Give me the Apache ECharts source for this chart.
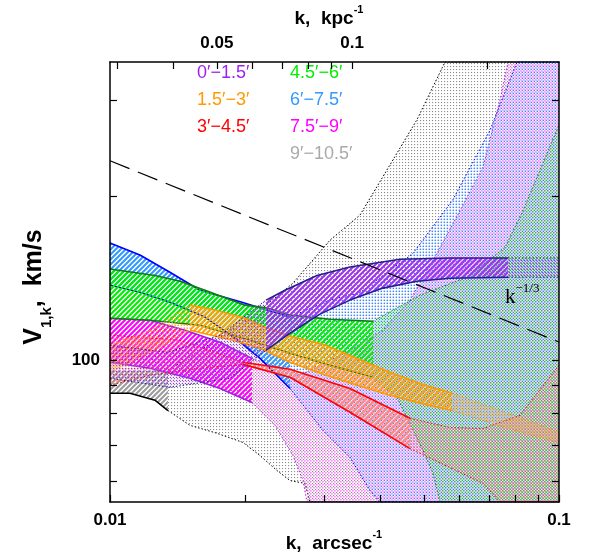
<!DOCTYPE html>
<html>
<head>
<meta charset="utf-8">
<script src="https://cdn.jsdelivr.net/npm/echarts@6/dist/echarts.min.js"></script>
<style>
  html, body { margin: 0; padding: 0; background: #fff; }
  #chart { width: 598px; height: 558px; }
</style>
</head>
<body>
<div id="chart"></div>
<script>
// axes
const xTickValues = [0.01, 0.02, 0.03, 0.04, 0.05, 0.06, 0.07, 0.08, 0.09, 0.1];
const xLabelValues = [0.01, 0.1];
const kpcTickValues = [0.03, 0.04, 0.05, 0.06, 0.07, 0.08, 0.09, 0.1, 0.2];
const kpcLabelValues = [0.05, 0.1];
const yTickValues = [60, 70, 80, 90, 100, 200, 300];
const yLabelValues = [100];
const kpcPerArcsec = 2.89;

const legendNames = ['0′−1.5′', '1.5′−3′', '3′−4.5′', '4.5′−6′', '6′−7.5′', '7.5′−9′', '9′−10.5′'];

// k^-1/3 reference
const slopeLine = [[0.01, 232], [0.1, 108]];

// 9'-10.5'
const grayHatchUp = [[0.01, 95.9], [0.01346, 95.9]];
const grayHatchLo = [[0.01, 87], [0.01108, 87], [0.01259, 84.5], [0.01346, 80.9]];
const grayDotUp = [[0.01346, 95.9], [0.01587, 104.3], [0.0205, 119.4], [0.02556, 138.5], [0.0309, 166], [0.03603, 184.5], [0.04827, 276], [0.05573, 352], [0.1, 352]];
const grayDotLo = [[0.01346, 80.9], [0.01507, 76], [0.01731, 73.5], [0.01978, 70.7], [0.02158, 66.9], [0.02355, 62.8], [0.02517, 60.2], [0.02718, 59.5], [0.02789, 55], [0.1, 55]];

// 7.5'-9'
const magHatchUp = [[0.01, 119.4], [0.01228, 118.4], [0.01469, 113.5], [0.01758, 107.9], [0.02071, 100.8]];
const magHatchLo = [[0.01, 99.2], [0.01228, 96.7], [0.01507, 92.7], [0.01758, 88.8], [0.02071, 83.7]];
const magDotUp = [[0.02071, 100.8], [0.0265, 93.9], [0.03423, 104.3], [0.04055, 113.5], [0.04657, 128.9], [0.05349, 157], [0.06018, 188], [0.06773, 226], [0.0739, 300], [0.07699, 352], [0.1, 352]];
const magDotLo = [[0.02071, 83.7], [0.02331, 76], [0.02556, 66.9], [0.0269, 60.2], [0.02746, 55], [0.1, 55]];

// 6'-7.5'
const blueHatchUp = [[0.01, 164], [0.01166, 155.9], [0.0136, 145], [0.01587, 134.4], [0.0195, 128], [0.02517, 120]];
const blueHatchLo = [[0.01, 137.3], [0.01166, 133.3], [0.0136, 127.8], [0.01628, 120], [0.01928, 108.8], [0.02158, 100.8], [0.02517, 88.8]];
const blueDotUp = [[0.02517, 120], [0.0309, 129], [0.03603, 133], [0.04729, 157], [0.05806, 197], [0.0702, 264], [0.08063, 352], [0.1, 352]];
const blueDotLo = [[0.02517, 88.8], [0.02981, 74.4], [0.03423, 66.4], [0.03794, 57.7], [0.03993, 55], [0.1, 55]];

// 4.5'-6'
const greenHatchUp = [[0.01, 147], [0.01259, 143], [0.01432, 139.6], [0.01628, 134.4], [0.01998, 126.2], [0.02248, 124.6], [0.02517, 121], [0.0309, 118.9], [0.03852, 117.9]];
const greenHatchLo = [[0.01, 119.4], [0.01228, 118.4], [0.01587, 115.9], [0.0205, 108.8], [0.02517, 103], [0.0309, 97.9], [0.03852, 93.1]];
const greenDotUp = [[0.03852, 117.9], [0.04902, 131.6], [0.06239, 142], [0.07581, 161], [0.08315, 188], [0.09072, 223], [0.1, 270]];
const greenDotLo = [[0.03852, 93.1], [0.04357, 85.5], [0.04657, 76.6], [0.04978, 68.4], [0.0524, 62.1], [0.05432, 55], [0.1, 55]];

// 3'-4.5'
const redHatchUp = [[0.01978, 99.2], [0.02517, 96.3], [0.03423, 88.8], [0.04657, 78.3]];
const redHatchLo = [[0.01978, 98.3], [0.02517, 93.1], [0.03423, 80.3], [0.04657, 68.9]];
const redDotLeftUp = [[0.01, 111.2], [0.01432, 108.8], [0.01978, 99.2]];
const redDotLeftLo = [[0.01, 90], [0.01228, 93.9], [0.01587, 96.7], [0.01978, 98.3]];
const redDotRightUp = [[0.04657, 78.3], [0.05718, 75.3], [0.06773, 75], [0.08188, 79.3], [0.1, 97.9]];
const redDotRightLo = [[0.04657, 68.9], [0.05718, 63.6], [0.06773, 59.5], [0.0739, 55], [0.1, 55]];

// 1.5'-3'
const orangeHatchUp = [[0.01507, 126.2], [0.01713, 123.6], [0.01998, 119.4], [0.02214, 115], [0.02517, 110.7], [0.02981, 107], [0.03548, 100.8], [0.04203, 95.1], [0.04902, 90.7], [0.05777, 87]];
const orangeHatchLo = [[0.01507, 113.5], [0.01879, 108.8], [0.02158, 105.2], [0.02517, 99.2], [0.02981, 94.3], [0.03548, 90], [0.04203, 86.3], [0.04902, 83.4], [0.05777, 80.9]];
const orangeDotLeftUp = [[0.01, 106.5], [0.01228, 113.5], [0.01507, 126.2]];
const orangeDotLeftLo = [[0.01, 95.1], [0.01228, 103.4], [0.01507, 113.5]];
const orangeDotRightUp = [[0.05777, 87], [0.07581, 80.3], [0.1, 73.8]];
const orangeDotRightLo = [[0.05777, 80.9], [0.07581, 75.3], [0.1, 70.7]];

// 0'-1.5'
const purpleHatchUp = [[0.02226, 128.9], [0.02453, 134.4], [0.02891, 143], [0.03423, 148.2], [0.04424, 153.2], [0.05718, 154], [0.07699, 154]];
const purpleHatchLo = [[0.02226, 104.3], [0.02517, 112.1], [0.02935, 121.5], [0.03423, 128.9], [0.04055, 135.6], [0.04827, 139.6], [0.05718, 141.4], [0.07699, 142]];
const purpleDotLeftUp = [[0.01, 106.5], [0.01346, 103.4], [0.01758, 111.2], [0.02226, 128.9]];
const purpleDotLeftLo = [[0.01, 92.7], [0.0136, 89.2], [0.0185, 92.7], [0.02226, 104.3]];
const purpleDotRightUp = [[0.07699, 154], [0.1, 154]];
const purpleDotRightLo = [[0.07699, 142], [0.1, 142]];

const FONT = 'Liberation Sans';

// diagonal "////" hatch, tile holds two stripes so the seams line up
function hatchPattern(color, lw) {
  const c = document.createElement('canvas');
  c.width = 10; c.height = 10;
  const g = c.getContext('2d');
  g.strokeStyle = color;
  g.lineWidth = lw;
  g.beginPath();
  for (let k = -3; k <= 5; k++) {
    const off = k * 5;
    g.moveTo(off - 10, 20);
    g.lineTo(off + 20, -10);
  }
  g.stroke();
  return { image: c, repeat: 'repeat' };
}

// one dot per tile, wrapped so an offset dot is never cut
function dotPattern(color, step, size, off) {
  const c = document.createElement('canvas');
  c.width = step; c.height = step;
  const g = c.getContext('2d');
  g.fillStyle = color;
  [0, -step].forEach(dx => [0, -step].forEach(dy => g.fillRect(off + dx, off + dy, size, size)));
  return { image: c, repeat: 'repeat' };
}

// draw order: outer annuli first, inner ones on top
const annuli = [
  { hatch: '#9c9c9c', dot: '#8c8c8c', dotSize: 1.1, edge: '#000000', up: grayHatchUp, lo: grayHatchLo, drawUp: false,
    ext: [[grayDotUp, grayDotLo]] },
  { hatch: '#ff00ff', dot: '#ff22ff', dotSize: 1.2, edge: '#a020e0', up: magHatchUp, lo: magHatchLo, drawUp: true,
    ext: [[magDotUp, magDotLo]] },
  { hatch: '#3399ff', dot: '#3d85ff', dotSize: 1.4, edge: '#0000ff', up: blueHatchUp, lo: blueHatchLo, drawUp: true,
    ext: [[blueDotUp, blueDotLo]] },
  { hatch: '#00ee00', dot: '#19d419', dotSize: 1.4, edge: '#157a15', up: greenHatchUp, lo: greenHatchLo, drawUp: true,
    ext: [[greenDotUp, greenDotLo]] },
  { hatch: '#ff8878', dot: '#ff7060', dotSize: 1.4, edge: '#ff0000', up: redHatchUp, lo: redHatchLo, drawUp: true,
    ext: [[redDotLeftUp, redDotLeftLo], [redDotRightUp, redDotRightLo]] },
  { hatch: '#ffa010', dot: '#ffa010', dotSize: 1.4, edge: '#ff9900', up: orangeHatchUp, lo: orangeHatchLo, drawUp: true,
    ext: [[orangeDotLeftUp, orangeDotLeftLo], [orangeDotRightUp, orangeDotRightLo]] },
  { hatch: '#9d33ee', dot: '#9d33ee', dotSize: 1.3, edge: '#22208c', up: purpleHatchUp, lo: purpleHatchLo, drawUp: true,
    ext: [[purpleDotLeftUp, purpleDotLeftLo], [purpleDotRightUp, purpleDotRightLo]] }
];

const legendColors = ['#a020f0', '#ff9900', '#ff0000', '#00ee00', '#3399ff', '#ff00ff', '#aaaaaa'];

function area(up, lo, fill, z) {
  return {
    type: 'custom',
    coordinateSystem: 'cartesian2d',
    xAxisIndex: 0,
    yAxisIndex: 0,
    z: z,
    silent: true,
    clip: true,
    data: [up[0]],
    renderItem: function (params, api) {
      const pts = up.concat(lo.slice().reverse()).map(p => api.coord(p));
      return { type: 'polygon', shape: { points: pts }, style: { fill: fill, stroke: null } };
    }
  };
}

function edge(data, color, width, type, z) {
  return {
    type: 'line',
    xAxisIndex: 0,
    yAxisIndex: 0,
    data: data,
    symbol: 'none',
    showSymbol: false,
    silent: true,
    z: z,
    lineStyle: { color: color, width: width, type: type }
  };
}

// each annulus: dotted extension, then hatch, then its edges; the next one covers it
const series = [];
annuli.forEach((a, i) => {
  const z = 10 + i * 4;
  a.ext.forEach(pair => series.push(area(pair[0], pair[1], dotPattern(a.dot, 3, a.dotSize, (i * 1.3) % 3), z)));
  a.ext.forEach(pair => {
    series.push(edge(pair[0], a.edge, 1, [1.5, 2], z + 1));
    series.push(edge(pair[1], a.edge, 1, [1.5, 2], z + 1));
  });
  series.push(area(a.up, a.lo, hatchPattern(a.hatch, 2.1), z + 2));
  if (a.drawUp) series.push(edge(a.up, a.edge, 1.6, 'solid', z + 3));
  series.push(edge(a.lo, a.edge, 1.6, 'solid', z + 3));
});
series.push(edge(slopeLine, '#000', 1.2, [21, 9], 100));

function fmt(v) { return String(+Number(v).toPrecision(4)); }

function logAxis(min, max, position, ticks, labels) {
  return {
    type: 'log',
    logBase: 10,
    min: min,
    max: max,
    position: position,
    z: 200,
    axisLine: { show: true, onZero: false, lineStyle: { color: '#000', width: 1.5 } },
    axisTick: { show: true, inside: true, length: 7, customValues: ticks, lineStyle: { color: '#000', width: 1.2 } },
    axisLabel: {
      show: labels.length > 0,
      customValues: labels,
      formatter: fmt,
      color: '#000',
      fontFamily: FONT,
      fontWeight: 'bold',
      fontSize: 17,
      margin: 10,
      showMinLabel: true,
      showMaxLabel: true
    },
    minorTick: { show: false },
    splitLine: { show: false },
    minorSplitLine: { show: false }
  };
}

const graphics = [];
const legendRowY = [73, 100, 127, 73, 100, 127, 154];
legendNames.forEach((name, i) => {
  graphics.push({
    type: 'text',
    x: i < 3 ? 197 : 290,
    y: legendRowY[i],
    style: { text: name, fill: legendColors[i], font: '18px "' + FONT + '"', verticalAlign: 'middle' }
  });
});
const supRich = {
  m: { fontFamily: FONT, fontWeight: 'bold', fontSize: 19, lineHeight: 24, fill: '#000', verticalAlign: 'bottom' },
  s: { fontFamily: FONT, fontWeight: 'bold', fontSize: 11, fill: '#000', verticalAlign: 'top' }
};
graphics.push({
  type: 'text', x: 334, y: 541,
  style: { text: '{m|k,  arcsec}{s|-1}', align: 'center', verticalAlign: 'middle', rich: supRich }
});
graphics.push({
  type: 'text', x: 329, y: 16,
  style: { text: '{m|k,  kpc}{s|-1}', align: 'center', verticalAlign: 'middle', rich: supRich }
});
graphics.push({
  type: 'text', x: 38, y: 287, rotation: Math.PI / 2,
  style: {
    text: '{m|V}{s|1,k}{m|,  km/s}',
    align: 'center', verticalAlign: 'middle',
    rich: {
      m: { fontFamily: FONT, fontWeight: 'bold', fontSize: 25, lineHeight: 32, fill: '#000', verticalAlign: 'top' },
      s: { fontFamily: FONT, fontWeight: 'bold', fontSize: 15, fill: '#000', verticalAlign: 'bottom' }
    }
  }
});
graphics.push({
  type: 'text', x: 505, y: 295, z: 300,
  style: {
    text: '{m|k}{s|−1/3}',
    align: 'left', verticalAlign: 'middle',
    rich: {
      m: { fontFamily: 'Liberation Serif', fontSize: 21, lineHeight: 26, fill: '#000', verticalAlign: 'bottom' },
      s: { fontFamily: 'Liberation Serif', fontSize: 13, fill: '#000', verticalAlign: 'top' }
    }
  }
});

const chart = echarts.init(document.getElementById('chart'), null, { renderer: 'canvas' });
chart.setOption({
  animation: false,
  backgroundColor: '#fff',
  grid: { left: 110, top: 62, width: 449, height: 440, containLabel: false },
  xAxis: [
    logAxis(0.01, 0.1, 'bottom', xTickValues, xLabelValues),
    logAxis(0.01 * kpcPerArcsec, 0.1 * kpcPerArcsec, 'top', kpcTickValues, kpcLabelValues)
  ],
  yAxis: [
    logAxis(55, 352, 'left', yTickValues, yLabelValues),
    logAxis(55, 352, 'right', yTickValues, [])
  ],
  series: series,
  graphic: graphics
});
</script>
</body>
</html>
